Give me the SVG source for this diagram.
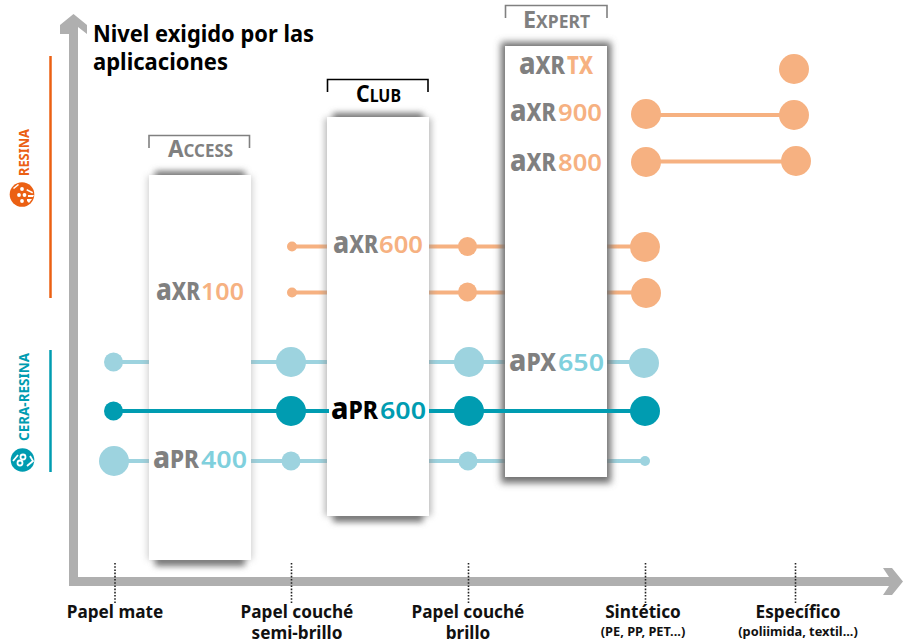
<svg xmlns="http://www.w3.org/2000/svg" width="909" height="642" viewBox="0 0 909 642">
<style>
text{font-family:"Noto Sans","Open Sans","Liberation Sans",sans-serif;font-weight:700}
.axis{fill:#afafaf}
.title{font-size:23px;fill:#000}
.lab{font-size:17.2px;fill:#111;text-anchor:middle}
.sub{font-size:12.800px;fill:#111;text-anchor:middle}
.tier{font-size:24px;fill:#808080}
.tier .s{font-size:18px}
.br{fill:none;stroke:#808080;stroke-width:1.6}
.card{fill:#fff}
.lo{stroke:#f6b181;stroke-width:4;fill:none}
.lt{stroke:#9dd3df;stroke-width:4;fill:none}
.dt{stroke:#009cb1;stroke-width:4;fill:none}
.co{fill:#f6b181}.ct{fill:#9dd3df}.cd{fill:#009cb1}
.dot{stroke:#222;stroke-width:1.6;stroke-dasharray:1.6 1.6;fill:none}
.logo{font-size:24px;fill:#808080;font-weight:800}
.a{font-size:30px}
.n{font-weight:600;font-size:23px}
.no{fill:#f6b181}.nt{fill:#80d0dd}.nd{fill:#009cb1}
.k{fill:#000}
.v{font-size:15px;text-anchor:middle}
</style>
<defs>
<filter id="b3" x="-20%" y="-20%" width="140%" height="140%"><feGaussianBlur stdDeviation="3"/></filter>
<filter id="b4" x="-20%" y="-20%" width="140%" height="140%"><feGaussianBlur stdDeviation="3.500"/></filter>
</defs>

<g id="axes">
<path class="axis" d="M69 586V34L60 34V25L73.500 14 87 25V34L78 27V577H889L883 568H892L903 581.500 892 595H883L889 586Z"/>
</g>

<g id="title"><text class="title" x="93" y="42" textLength="221" lengthAdjust="spacingAndGlyphs">Nivel exigido por las</text>
<text class="title" x="93" y="70" textLength="135" lengthAdjust="spacingAndGlyphs">aplicaciones</text></g>

<g id="legend-resina">
<line x1="50.500" y1="56" x2="50.500" y2="298" stroke="#eb6013" stroke-width="2.500"/>
<text class="v" transform="translate(29 152.500) rotate(-90)" fill="#eb6013" textLength="47" lengthAdjust="spacingAndGlyphs">RESINA</text>
<circle cx="22" cy="194.500" r="12.300" fill="#eb6013"/>
<g fill="#fff"><circle cx="22" cy="189" r="1.900"/><circle cx="19" cy="195" r="1.900"/><circle cx="24.500" cy="195" r="1.900"/><circle cx="22" cy="201" r="1.900"/><path d="M13 188l5-4 1 1-5 4zM27 189l6 3-.6 1.600-6-3zM28 195h6l-1 2h-5zM27 199l5 0-3 4-2-2z"/></g>
</g>
<g id="legend-cera">
<line x1="50.500" y1="350" x2="50.500" y2="472" stroke="#009cb1" stroke-width="2.500"/>
<text class="v" transform="translate(29 397) rotate(-90)" fill="#009cb1" textLength="88" lengthAdjust="spacingAndGlyphs">CERA-RESINA</text>
<circle cx="22.500" cy="460" r="11.800" fill="#009cb1"/>
<g fill="none" stroke="#fff" stroke-width="1.800"><circle cx="20" cy="463" r="2.500"/><circle cx="23" cy="457" r="2.500"/><path d="M13 461l5-6M27 466l6-5-3-5"/></g>
</g>

<g id="connectors">
<path class="lo" d="M292 246.500H505M607 246.500H645M292 292.500H505M607 292.500H646M646 115H794M646 161.500H796"/>
<path class="lt" d="M113.500 362H505M607 362H644M114 461H505M607 461H645"/>
</g>

<g id="card-access">
<rect x="155" y="171" width="90" height="395" fill="#777" filter="url(#b3)"/>
<rect x="147" y="176" width="106" height="384" fill="#999" opacity=".4" filter="url(#b3)"/>
<rect class="card" x="149" y="175" width="102" height="385"/>
<path class="br" d="M149 148V135.500H249.500V148"/>
<text class="tier" x="168" y="157" textLength="65" lengthAdjust="spacingAndGlyphs">A<tspan class="s">CCESS</tspan></text>
</g>
<g id="card-club">
<rect x="333" y="113" width="90" height="409" fill="#777" filter="url(#b3)"/>
<rect x="324.500" y="118" width="107" height="398" fill="#888" opacity=".55" filter="url(#b3)"/>
<rect class="card" x="327" y="117" width="102" height="399"/>
<path class="br" style="stroke:#000" d="M327.500 92V79.500H428V92"/>
<text class="tier" style="fill:#000" x="356" y="102" textLength="45" lengthAdjust="spacingAndGlyphs">C<tspan class="s">LUB</tspan></text>
</g>
<g id="card-expert">
<rect x="501" y="42" width="110" height="441" fill="#707070" filter="url(#b4)"/>
<rect class="card" x="505" y="46" width="102" height="431"/>
<path class="br" d="M505.500 18V5.500H607V18"/>
<text class="tier" x="523" y="28" textLength="67" lengthAdjust="spacingAndGlyphs">E<tspan class="s">XPERT</tspan></text>
</g>

<g id="connector-apr600">
<path class="dt" d="M113.500 411H645"/>
<rect x="329" y="398" width="100" height="26" fill="#fff"/>
</g>

<g id="nodes-orange" class="co">
<circle cx="794" cy="69" r="15"/>
<circle cx="646" cy="114" r="15"/><circle cx="794" cy="115" r="15"/>
<circle cx="646" cy="162" r="15"/><circle cx="796" cy="161" r="15"/>
<circle cx="292" cy="246.500" r="5"/><circle cx="467.500" cy="246.500" r="9.500"/><circle cx="645" cy="247" r="15"/>
<circle cx="292" cy="292.500" r="5"/><circle cx="467.500" cy="292" r="9.500"/><circle cx="646" cy="293" r="15"/>
</g>
<g id="nodes-teal-light" class="ct">
<circle cx="113.500" cy="362" r="9.500"/><circle cx="291" cy="362" r="15"/><circle cx="469" cy="362" r="15"/><circle cx="644" cy="363" r="15"/>
<circle cx="114" cy="461" r="15"/><circle cx="291" cy="461" r="9.500"/><circle cx="468" cy="461" r="9.500"/><circle cx="645" cy="461" r="5"/>
</g>
<g id="nodes-teal-dark" class="cd">
<circle cx="113.500" cy="411" r="9.500"/><circle cx="291" cy="411" r="15"/><circle cx="469" cy="411" r="15"/><circle cx="645" cy="411" r="15"/>
</g>

<g id="logos">
<text class="logo" y="300"><tspan x="156" textLength="44" lengthAdjust="spacingAndGlyphs"><tspan class="a">a</tspan>XR</tspan><tspan class="n no" x="201" textLength="43" lengthAdjust="spacingAndGlyphs">100</tspan></text>
<text class="logo" y="468"><tspan x="153" textLength="46" lengthAdjust="spacingAndGlyphs"><tspan class="a">a</tspan>PR</tspan><tspan class="n nt" x="201" textLength="46" lengthAdjust="spacingAndGlyphs">400</tspan></text>
<text class="logo" y="253"><tspan x="333" textLength="45" lengthAdjust="spacingAndGlyphs"><tspan class="a">a</tspan>XR</tspan><tspan class="n no" x="379" textLength="44" lengthAdjust="spacingAndGlyphs">600</tspan></text>
<text class="logo k" y="419"><tspan x="331" textLength="47" lengthAdjust="spacingAndGlyphs"><tspan class="a">a</tspan>PR</tspan><tspan class="n nd" x="380" textLength="46" lengthAdjust="spacingAndGlyphs">600</tspan></text>
<text class="logo" y="74"><tspan x="519" textLength="46" lengthAdjust="spacingAndGlyphs"><tspan class="a">a</tspan>XR</tspan><tspan class="no" x="567" textLength="26" lengthAdjust="spacingAndGlyphs">TX</tspan></text>
<text class="logo" y="121"><tspan x="510" textLength="46" lengthAdjust="spacingAndGlyphs"><tspan class="a">a</tspan>XR</tspan><tspan class="n no" x="558" textLength="44" lengthAdjust="spacingAndGlyphs">900</tspan></text>
<text class="logo" y="171"><tspan x="510" textLength="46" lengthAdjust="spacingAndGlyphs"><tspan class="a">a</tspan>XR</tspan><tspan class="n no" x="558" textLength="44" lengthAdjust="spacingAndGlyphs">800</tspan></text>
<text class="logo" y="371"><tspan x="509" textLength="47" lengthAdjust="spacingAndGlyphs"><tspan class="a">a</tspan>PX</tspan><tspan class="n nt" x="558" textLength="46" lengthAdjust="spacingAndGlyphs">650</tspan></text>
</g>

<g id="ticks">
<path class="dot" d="M115 563V603M291.500 563V603M468.500 563V603M645.500 563V603M795.500 563V603"/>
</g>
<g id="x-labels">
<text class="lab" x="115" y="618">Papel mate</text>
<text class="lab" x="297" y="618">Papel couché</text><text class="lab" x="297" y="639">semi-brillo</text>
<text class="lab" x="468" y="618">Papel couché</text><text class="lab" x="468" y="639">brillo</text>
<text class="lab" x="643" y="618">Sintético</text><text class="sub" x="643" y="636">(PE, PP, PET...)</text>
<text class="lab" x="798" y="618">Específico</text><text class="sub" x="798" y="636">(poliimida, textil...)</text>
</g>
</svg>
